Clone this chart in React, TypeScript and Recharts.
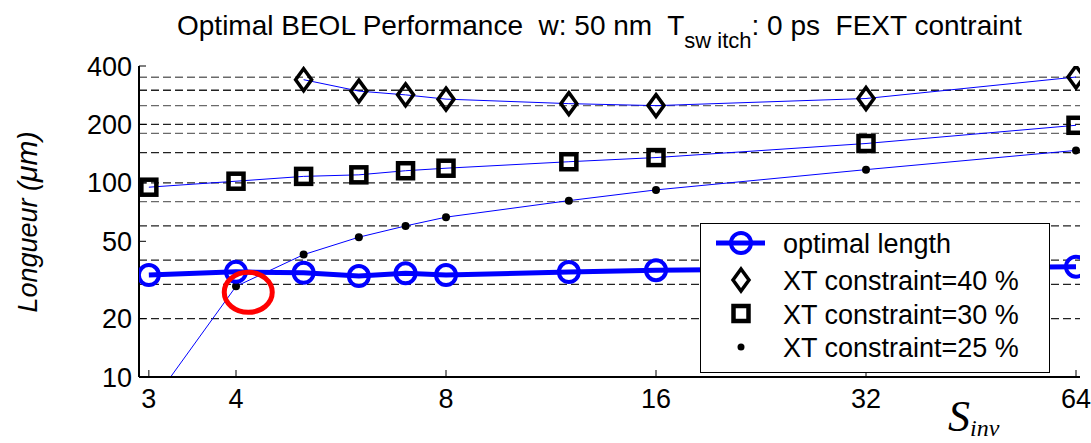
import React from "react";
import { LineChart, Line, XAxis, YAxis, CartesianGrid, ReferenceDot } from "recharts";

// S_inv sizes and lengths (um)
const sizes = [3, 4, 5, 6, 7, 8, 12, 16, 32, 64];
const optimalLength = [33.5, 34.8, 34.4, 33.1, 34.2, 33.5, 34.7, 35.5, 36.3, 37.0];
const xt40 = [null, null, 340, 297, 284, 270, 256, 250, 272, 351];
const xt30 = [95, 102, 108, 110, 115.5, 119, 128.5, 135, 159.5, 198];
const xt25 = [7, 29.3, 42.7, 52.5, 60, 66.6, 81, 92, 117, 147];

const xTicks = [3, 4, 8, 16, 32, 64];
const yTicks = [10, 20, 50, 100, 200, 400];
const darkGrid = [20, 30, 40, 50, 60, 90, 100, 123, 143, 200, 300];
const lightGrid = [70, 80, 150, 164, 180, 250, 350];
const highlight = { x: 4.165, y: 27.3 };

const data = sizes.map((s, i) => ({
  size: s,
  optimal: optimalLength[i],
  xt40: xt40[i],
  xt30: xt30[i],
  xt25: xt25[i],
}));

const BLUE = "#0000ff";
const FONT = "'Liberation Sans', Arial, sans-serif";

const Diamond = ({ cx, cy }: { cx: number; cy: number }) => (
  <polygon
    points={`${cx},${cy - 11} ${cx + 8},${cy} ${cx},${cy + 11} ${cx - 8},${cy}`}
    fill="none"
    stroke="#000"
    strokeWidth={3.5}
  />
);

const Square = ({ cx, cy }: { cx: number; cy: number }) => (
  <rect x={cx - 7.5} y={cy - 7.5} width={15} height={15} fill="none" stroke="#000" strokeWidth={4.5} />
);

const Point = ({ cx, cy }: { cx: number; cy: number }) => <circle cx={cx} cy={cy} r={4} fill="#000" />;

const Ring = ({ cx, cy }: { cx: number; cy: number }) => (
  <circle cx={cx} cy={cy} r={10} fill="none" stroke={BLUE} strokeWidth={4} />
);

const marker = (Shape: React.FC<{ cx: number; cy: number }>) => (p: any) => {
  if (p.cx == null || p.cy == null || p.value == null) return <g key={`m-${p.index}`} />;
  return (
    <g key={`m-${p.index}`}>
      <Shape cx={p.cx} cy={p.cy} />
    </g>
  );
};

const legendRows = [
  { label: "optimal length", y: 243 },
  { label: "XT constraint=40 %", y: 280 },
  { label: "XT constraint=30 %", y: 313.5 },
  { label: "XT constraint=25 %", y: 347 },
];

export default function App() {
  return (
    <div style={{ position: "absolute", left: 0, top: 0, width: 1091, height: 443, background: "#fff" }}>
      <LineChart
        width={1091}
        height={443}
        data={data}
        margin={{ top: 66, right: 11, left: 79, bottom: 26 }}
      >
        <CartesianGrid
          horizontalValues={lightGrid}
          vertical={false}
          stroke="#6a6a6a"
          strokeWidth={1.3}
          strokeDasharray="8 4"
        />
        <CartesianGrid
          horizontalValues={darkGrid}
          vertical={false}
          stroke="#222"
          strokeWidth={1.3}
          strokeDasharray="8 4"
        />
        <XAxis
          dataKey="size"
          type="number"
          scale="log"
          domain={[2.904, 64.85]}
          ticks={xTicks}
          allowDataOverflow
          height={40}
          tickSize={-7}
          tickMargin={19}
          axisLine={{ stroke: "#000", strokeWidth: 2 }}
          tickLine={{ stroke: "#000" }}
          tick={{ fill: "#000", fontSize: 27, fontFamily: FONT }}
        />
        <XAxis
          xAxisId="top"
          orientation="top"
          dataKey="size"
          type="number"
          scale="log"
          domain={[2.904, 64.85]}
          ticks={xTicks}
          allowDataOverflow
          height={0}
          tickSize={-7}
          tick={false}
          axisLine={{ stroke: "#000", strokeWidth: 1.5 }}
          tickLine={{ stroke: "#000" }}
        />
        <YAxis
          type="number"
          scale="log"
          domain={[10, 400]}
          ticks={yTicks}
          allowDataOverflow
          width={60}
          tickSize={-7}
          tickMargin={14}
          axisLine={{ stroke: "#000", strokeWidth: 2 }}
          tickLine={{ stroke: "#000" }}
          tick={{ fill: "#000", fontSize: 27, fontFamily: FONT }}
        />
        <YAxis
          yAxisId="right"
          orientation="right"
          type="number"
          scale="log"
          domain={[10, 400]}
          ticks={yTicks}
          allowDataOverflow
          width={0}
          tick={false}
          tickLine={false}
          axisLine={{ stroke: "#000", strokeWidth: 1.5 }}
        />
        <Line
          dataKey="xt40"
          stroke={BLUE}
          strokeWidth={1}
          dot={marker(Diamond)}
          activeDot={false}
          isAnimationActive={false}
        />
        <Line
          dataKey="xt30"
          stroke={BLUE}
          strokeWidth={1}
          dot={marker(Square)}
          activeDot={false}
          isAnimationActive={false}
        />
        <Line
          dataKey="xt25"
          stroke={BLUE}
          strokeWidth={1}
          dot={marker(Point)}
          activeDot={false}
          isAnimationActive={false}
        />
        <Line
          dataKey="optimal"
          stroke={BLUE}
          strokeWidth={5}
          dot={marker(Ring)}
          activeDot={false}
          isAnimationActive={false}
        />
        <ReferenceDot
          x={highlight.x}
          y={highlight.y}
          r={20}
          shape={(p: any) => (
            <ellipse cx={p.cx} cy={p.cy} rx={24} ry={20} fill="none" stroke="#ff0000" strokeWidth={5} />
          )}
        />
      </LineChart>

      <svg
        width={1091}
        height={443}
        style={{ position: "absolute", left: 0, top: 0, pointerEvents: "none" }}
      >
        <text x={177} y={35} fontFamily={FONT} fontSize={28} fill="#000" style={{ whiteSpace: "pre" }}>
          <tspan>{"Optimal BEOL Performance  w: 50 nm  T"}</tspan>
          <tspan fontSize={22} dy={13}>{"sw itch"}</tspan>
          <tspan dy={-13}>{": 0 ps  FEXT contraint"}</tspan>
        </text>

        <text
          transform="translate(37,222) rotate(-90)"
          textAnchor="middle"
          fontFamily={FONT}
          fontSize={27}
          fontStyle="italic"
          fill="#000"
        >
          Longueur (<tspan fontSize={30}>μm</tspan>)
        </text>

        <text x={948} y={431} fontFamily="'Liberation Serif', 'Times New Roman', serif" fontStyle="italic" fill="#000">
          <tspan fontSize={44}>S</tspan>
          <tspan fontSize={24} dy={5}>inv</tspan>
        </text>

        <rect x={700.5} y={223.5} width={349} height={149} fill="#fff" stroke="#000" strokeWidth={1} />
        <line x1={716} y1={legendRows[0].y} x2={765} y2={legendRows[0].y} stroke={BLUE} strokeWidth={5} />
        <Ring cx={741} cy={legendRows[0].y} />
        <Diamond cx={741} cy={legendRows[1].y} />
        <Square cx={741} cy={legendRows[2].y} />
        <circle cx={741} cy={legendRows[3].y} r={3.5} fill="#000" />
        {legendRows.map((r) => (
          <text key={r.label} x={783} y={r.y + 10} fontFamily={FONT} fontSize={27} fill="#000">
            {r.label}
          </text>
        ))}
      </svg>
    </div>
  );
}
